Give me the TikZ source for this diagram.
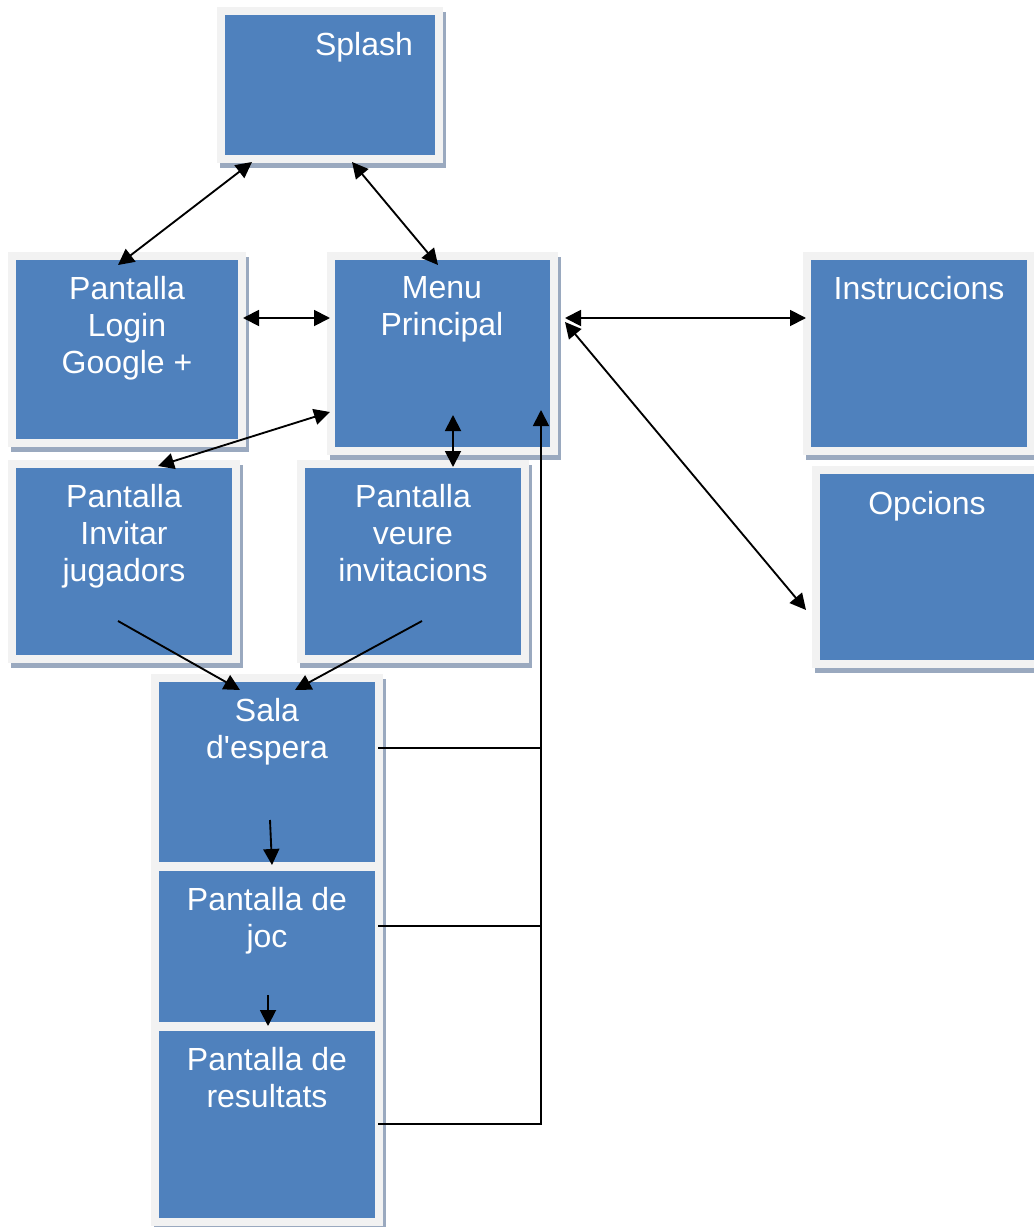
\documentclass[tikz,border=0pt]{standalone}
\usepackage{fontspec}
\setmainfont{Liberation Sans}[Ligatures=TeXOff]
\usetikzlibrary{arrows.meta,calc,fit}

\definecolor{boxblue}{HTML}{4F81BD}
\definecolor{framegray}{HTML}{F2F2F2}
\definecolor{shadowblue}{HTML}{9AA9BF}

\pgfdeclarelayer{shadow}
\pgfsetlayers{shadow,main}

% screen box: name, x1, y1, x2, y2 of the blue face (pixel grid)
\newcommand\screenbox[5]{%
  \begin{pgfonlayer}{shadow}
    \fill[shadowblue] ({#2-5},{#3-3}) rectangle ({#4+11},{#5+13});
  \end{pgfonlayer}
  \fill[framegray] ({#2-8},{#3-8}) rectangle ({#4+8},{#5+8});
  \node[screen, fit={(#2,#3) (#4,#5)}] (#1) {};
}

\begin{document}
\begin{tikzpicture}[
  x=0.75pt, y=-0.75pt,
  screen/.style={fill=boxblue, inner sep=0pt, outer sep=0pt},
  caption/.style={anchor=north, inner sep=0pt, text=white, align=center,
    font=\fontsize{24pt}{27.75pt}\selectfont},
  conn/.style={line width=1.4pt, draw=black},
  >={Triangle[length=12pt,width=12pt]}
]
\useasboundingbox (0,0) rectangle (1034,1227);

% screens
\screenbox{splash}{225}{15}{435}{155}
\screenbox{login}{16}{260}{238}{439}
\screenbox{menu}{335}{260}{550}{447}
\screenbox{instr}{811}{260}{1027}{447}
\screenbox{opcions}{820}{474}{1034}{660}
\screenbox{invitar}{16}{468}{232}{655}
\screenbox{veure}{305}{468}{521}{655}
\screenbox{sala}{159}{682}{375}{862}
\screenbox{joc}{159}{871}{375}{1022}
\screenbox{result}{159}{1031}{375}{1218}

% titles
\node[caption] (splash-t)  at (364,32)   {Splash};
\node[caption] (login-t)   at (127,276)  {Pantalla\\Login\\Google +};
\node[caption] (menu-t)    at (442,276)  {Menu\\Principal};
\node[caption] (instr-t)   at (919,276)  {Instruccions};
\node[caption] (opcions-t) at (927,491)  {Opcions};
\node[caption] (invitar-t) at (124,484)  {Pantalla\\Invitar\\jugadors};
\node[caption] (veure-t)   at (413,484)  {Pantalla\\veure\\invitacions};
\node[caption] (sala-t)    at (267,698)  {Sala\\d'espera};
\node[caption] (joc-t)     at (267,887)  {Pantalla de\\joc};
\node[caption] (result-t)  at (267,1047) {Pantalla de\\resultats};

% navigation between screens
\draw[conn,<->] ($(splash.south west)+(27,7)$) -- ($(login.north west)+(102,5)$);
\draw[conn,<->] ($(splash.south west)+(127,7)$) -- ($(menu.north west)+(103,5)$);
\draw[conn,<->] ($(login.north east)+(5,58)$) -- ($(menu.north west)+(-5,58)$);
\draw[conn,<->] ($(menu.north west)+(-5,152)$) -- ($(invitar.north west)+(142,-2)$);
\draw[conn,<->] ($(menu.south west)+(118,-32)$) -- ($(veure.north west)+(148,-1)$);
\draw[conn,<->] ($(menu.north east)+(15,58)$) -- ($(instr.north west)+(-5,58)$);
\draw[conn,<->] ($(menu.north east)+(15,62)$) -- ($(opcions.north west)+(-14,136)$);
\draw[conn,->] ($(invitar.south west)+(102,-34)$) -- ($(sala.north west)+(81,8)$);
\draw[conn,->] ($(veure.south west)+(117,-34)$) -- ($(sala.north west)+(136,8)$);
\draw[conn,->] ($(sala.south west)+(111,-42)$) -- ($(joc.north west)+(113,-6)$);
\draw[conn,->] ($(joc.south west)+(109,-27)$) -- ($(result.north west)+(109,-5)$);

% return path to the main menu
\coordinate (bus) at ($(menu.south east)+(-9,-37)$);
\coordinate (salaout) at ($(sala.north east)+(3,66)$);
\coordinate (jocout) at ($(joc.north east)+(3,55)$);
\coordinate (resultout) at ($(result.north east)+(3,93)$);
\draw[conn,->] (resultout) -| (bus);
\draw[conn] (salaout) -- (salaout -| bus);
\draw[conn] (jocout) -- (jocout -| bus);
\end{tikzpicture}
\end{document}
